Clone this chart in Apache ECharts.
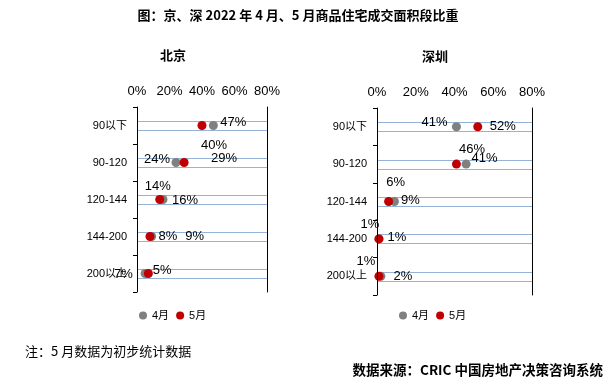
<!DOCTYPE html>
<html><head><meta charset="utf-8">
<script src="https://cdn.jsdelivr.net/npm/echarts@6/dist/echarts.min.js"></script>
<style>html,body{margin:0;padding:0;background:#fff}#c{width:606px;height:383px}</style>
</head><body><div id="c"></div>
<script>
// ---- data ----
const categories = ['90以下', '90-120', '120-144', '144-200', '200以上'];
const bjApr = [47, 24, 16, 9, 5];
const bjMay = [40, 29, 14, 8, 7];
const szApr = [41, 46, 9, 1, 2];
const szMay = [52, 41, 6, 1, 1];
const seriesNames = ['4月', '5月'];
const xMin = 0, xMax = 80, xStep = 20;

// ---- label offsets (layout only) ----
const bjAprOff = [[20, -3], [-19, -3], [22, 1], [43, 0], [17, -3]];
const bjMayOff = [[12, 20], [40, -4], [-2, -13], [18, 0], [-25, 1]];
const szAprOff = [[-22, -4], [6, -15], [16, -1], [18, -1], [22, 0]];
const szMayOff = [[25, 0], [28, -6], [7, -19], [-9, -14], [-13, -15]];

const GRAY = '#808080', RED = '#C00000', BLUE = '#95B3D7';
const LBL_FONT = '"Liberation Sans", "Noto Sans CJK SC", sans-serif';
const CJK_FONT = '"Noto Sans CJK SC", sans-serif';

const grids = [
  {left: 137, top: 107, width: 130, height: 185},
  {left: 377, top: 108, width: 155, height: 187}
];

function xAxisFor(gi) {
  return {
    type: 'value', gridIndex: gi, position: 'top', min: xMin, max: xMax, interval: xStep,
    axisLine: {show: false}, axisTick: {show: false}, splitLine: {show: false},
    axisLabel: {formatter: '{value}%', color: '#000', fontSize: 13, fontFamily: LBL_FONT, margin: 9}
  };
}
function yAxesFor(gi) {
  return [{
    type: 'category', gridIndex: gi, data: categories, inverse: true, z: 5,
    axisLine: {show: true, lineStyle: {color: '#000', width: 1}},
    axisTick: {show: true, length: 4, inside: false, lineStyle: {color: '#000'}},
    axisLabel: {color: '#000', fontSize: 11, fontFamily: LBL_FONT, margin: 10},
    splitLine: {show: false}
  }, {
    type: 'category', gridIndex: gi, data: categories, inverse: true, position: 'right', z: 5,
    axisLine: {show: true, lineStyle: {color: '#000', width: 1}},
    axisTick: {show: false}, axisLabel: {show: false}, splitLine: {show: false}
  }];
}
function dotSeries(name, vals, offs, color, gi) {
  return {
    type: 'scatter', name: name, xAxisIndex: gi, yAxisIndex: gi * 2,
    symbol: 'circle', symbolSize: 9, itemStyle: {color: color, opacity: 1}, z: 3,
    data: vals.map((v, i) => ({value: [v, categories[i]], label: {offset: offs[i]}})),
    label: {show: true, position: 'inside', formatter: p => p.value[0] + '%',
      color: '#000', fontSize: 13, fontFamily: LBL_FONT}
  };
}
// pair of light-blue guide lines around each category row, spanning the axis range
function guideSeries(gi) {
  return {
    type: 'custom', name: 'guide', xAxisIndex: gi, yAxisIndex: gi * 2, silent: true, z: 1,
    data: categories.map(c => [xMin, c]),
    encode: {x: 0, y: 1},
    renderItem: function (params, api) {
      const p0 = api.coord([xMin, api.value(1)]);
      const p1 = api.coord([xMax, api.value(1)]);
      const yA = Math.round(p0[1] - 4.5) + 0.5;
      const yB = Math.round(p0[1] + 4.5) + 0.5;
      const st = {stroke: BLUE, lineWidth: 1, fill: null};
      return {type: 'group', children: [
        {type: 'line', shape: {x1: p0[0], y1: yA, x2: p1[0], y2: yA}, style: st},
        {type: 'line', shape: {x1: p0[0], y1: yB, x2: p1[0], y2: yB}, style: st}
      ]};
    }
  };
}

const chart = echarts.init(document.getElementById('c'), null, {renderer: 'canvas'});
chart.setOption({
  animation: false,
  grid: grids,
  xAxis: [xAxisFor(0), xAxisFor(1)],
  yAxis: [...yAxesFor(0), ...yAxesFor(1)],
  legend: [
    {data: seriesNames, left: 139, top: 310, padding: 0, icon: 'circle', itemWidth: 8, itemHeight: 8, itemGap: 7,
     textStyle: {color: '#000', fontSize: 11, fontFamily: LBL_FONT}},
    {data: seriesNames, left: 399, top: 310, padding: 0, icon: 'circle', itemWidth: 8, itemHeight: 8, itemGap: 7,
     textStyle: {color: '#000', fontSize: 11, fontFamily: LBL_FONT}}
  ],
  series: [
    guideSeries(0), guideSeries(1),
    dotSeries(seriesNames[0], bjApr, bjAprOff, GRAY, 0),
    dotSeries(seriesNames[1], bjMay, bjMayOff, RED, 0),
    dotSeries(seriesNames[0], szApr, szAprOff, GRAY, 1),
    dotSeries(seriesNames[1], szMay, szMayOff, RED, 1)
  ],
  graphic: [
    {type: 'text', x: 298, y: 15, style: {text: '图：京、深 2022 年 4 月、5 月商品住宅成交面积段比重',
      font: 'bold 13px ' + CJK_FONT, fill: '#000', textAlign: 'center', textVerticalAlign: 'middle'}},
    {type: 'text', x: 173, y: 55, style: {text: '北京', font: 'bold 13px ' + CJK_FONT, fill: '#000',
      textAlign: 'center', textVerticalAlign: 'middle'}},
    {type: 'text', x: 435, y: 56, style: {text: '深圳', font: 'bold 13px ' + CJK_FONT, fill: '#000',
      textAlign: 'center', textVerticalAlign: 'middle'}},
    {type: 'text', x: 25, y: 351, style: {text: '注：5 月数据为初步统计数据', font: '13px ' + CJK_FONT, fill: '#000',
      textAlign: 'left', textVerticalAlign: 'middle'}},
    {type: 'text', x: 603, y: 370, style: {text: '数据来源：CRIC 中国房地产决策咨询系统', font: 'bold 13.5px ' + CJK_FONT, fill: '#000',
      textAlign: 'right', textVerticalAlign: 'middle'}}
  ]
});
</script></body></html>
